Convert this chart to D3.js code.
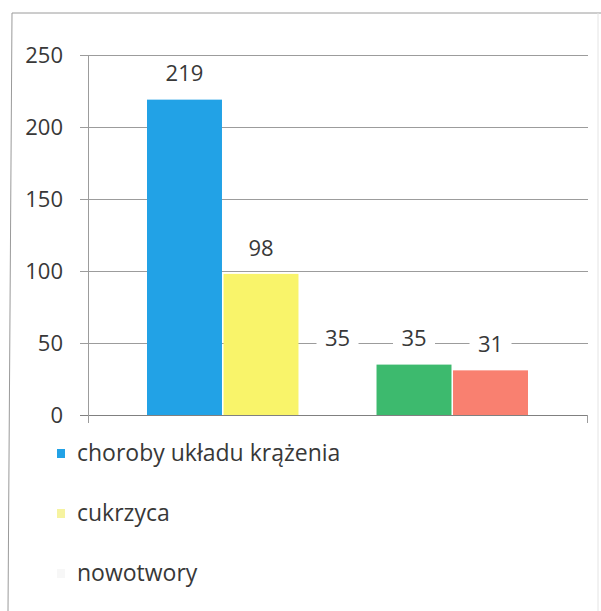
<!DOCTYPE html>
<html>
<head>
<meta charset="utf-8">
<script src="https://cdn.jsdelivr.net/npm/d3@7"></script>
<style>
  body { margin: 0; background: #fff; }
  svg text { font-family: "Open Sans", sans-serif; fill: #383838; }
</style>
</head>
<body>
<div id="chart"></div>
<script>
const width = 601;
const height = 611;

// one category, five series (only three legend entries are visible)
const barValues = [219, 98, 35, 35, 31];
const barColors = ["#22a2e6", "#f9f46a", "#ffffff", "#3dba6e", "#f98070"];
const legendLabels = ["choroby układu krążenia", "cukrzyca", "nowotwory"];
const legendColors = ["#22a2e6", "#f6f3a0", "#f7f7f7"];
const yTicks = [0, 50, 100, 150, 200, 250];

const plot = { left: 88, right: 588, top: 55, bottom: 415 };

const svg = d3.select("#chart").append("svg")
    .attr("width", width)
    .attr("height", height);

// outer frame of the scanned chart
svg.append("path")
    .attr("d", `M8,${height} L12,13 L${width},13`)
    .attr("fill", "none")
    .attr("stroke", "#9a9a9a")
    .attr("stroke-width", 1);
svg.append("line")
    .attr("x1", 598).attr("x2", 598)
    .attr("y1", 13).attr("y2", height)
    .attr("stroke", "#e4e4e4");

const y = d3.scaleLinear().domain([0, 250]).range([plot.bottom, plot.top]);

// bars take the middle part of the plot width
const groupWidth = (plot.right - plot.left) * 0.762;
const groupStart = 337.5 - groupWidth / 2;
const x = d3.scaleBand()
    .domain(d3.range(barValues.length))
    .range([groupStart, groupStart + groupWidth])
    .paddingInner(0.02);

// gridlines + tick marks
svg.append("g")
    .selectAll("line")
    .data(yTicks)
    .join("line")
    .attr("x1", plot.left - 8)
    .attr("x2", plot.right)
    .attr("y1", d => y(d) + 0.5)
    .attr("y2", d => y(d) + 0.5)
    .attr("stroke", d => d === 0 ? "#808080" : "#9c9c9c")
    .attr("stroke-width", 1);

// y axis line
svg.append("line")
    .attr("x1", plot.left + 0.5).attr("x2", plot.left + 0.5)
    .attr("y1", plot.top).attr("y2", plot.bottom + 8)
    .attr("stroke", "#9c9c9c");
// right end tick of category axis
svg.append("line")
    .attr("x1", plot.right - 0.5).attr("x2", plot.right - 0.5)
    .attr("y1", plot.bottom).attr("y2", plot.bottom + 8)
    .attr("stroke", "#9c9c9c");

// tick labels
svg.append("g")
    .selectAll("text")
    .data(yTicks)
    .join("text")
    .attr("x", 63)
    .attr("y", d => y(d))
    .attr("dy", "0.35em")
    .attr("text-anchor", "end")
    .attr("font-size", 22)
    .text(d => d);

// bars
svg.append("g")
    .selectAll("rect")
    .data(barValues)
    .join("rect")
    .attr("x", (d, i) => x(i))
    .attr("y", d => y(d))
    .attr("width", x.bandwidth())
    .attr("height", d => y(0) - y(d))
    .attr("fill", (d, i) => barColors[i]);

// data labels with white background (gridlines break around them)
const labels = svg.append("g")
    .selectAll("g")
    .data(barValues)
    .join("g")
    .attr("transform", (d, i) => `translate(${x(i) + x.bandwidth() / 2},${y(d) - 26})`);

labels.append("rect")
    .attr("x", -21).attr("y", -13)
    .attr("width", 42).attr("height", 26)
    .attr("fill", "#fff");

labels.append("text")
    .attr("text-anchor", "middle")
    .attr("dy", "0.35em")
    .attr("font-size", 22)
    .text(d => d);

// legend
const legend = svg.append("g")
    .selectAll("g")
    .data(legendLabels)
    .join("g")
    .attr("transform", (d, i) => `translate(57,${453 + i * 60})`);

legend.append("rect")
    .attr("x", 0).attr("y", -4)
    .attr("width", 8).attr("height", 9)
    .attr("fill", (d, i) => legendColors[i]);

legend.append("text")
    .attr("x", 20)
    .attr("dy", "0.35em")
    .attr("font-size", 23)
    .text(d => d);
</script>
</body>
</html>
